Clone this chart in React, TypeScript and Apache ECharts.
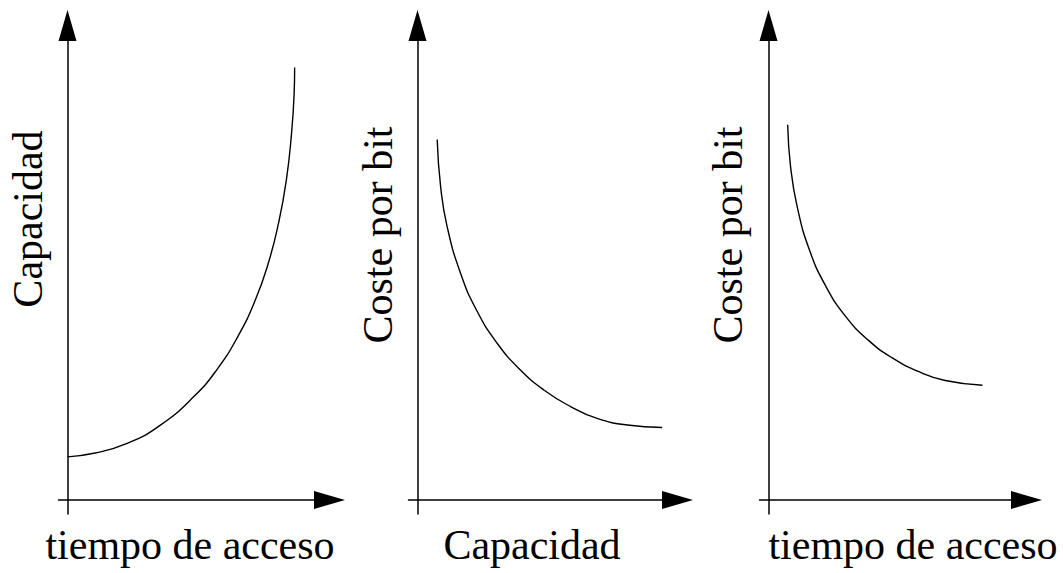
import React, { useEffect, useRef } from "react";
import * as echarts from "echarts";

// Curve 1: Capacidad vs tiempo de acceso
const curve1X = [0, 10, 22.7, 35.4, 48.1, 56.9, 64.8, 71.4, 76.4, 80.3, 83.3, 85.3, 86.3, 86.5];
const curve1Y = [9.1, 9.85, 11.95, 15.8, 21.8, 27.5, 34.4, 42.0, 49.8, 58.2, 67.3, 77.2, 85.6, 91.2];
// Curve 2: Coste por bit vs Capacidad
const curve2X = [7.5, 8.8, 11.3, 16.4, 22.5, 30.4, 39.2, 48.1, 58.3, 68.4, 79.9, 93.2];
const curve2Y = [76.0, 66.1, 57.6, 47.8, 40.0, 33.0, 27.4, 23.2, 19.7, 17.2, 15.8, 15.3];
// Curve 3: Coste por bit vs tiempo de acceso
const curve3X = [7.3, 8.4, 10.9, 15.6, 21.9, 29.5, 38.2, 47.0, 57.1, 67.3, 81.5];
const curve3Y = [79.1, 70.3, 61.9, 52.7, 45.0, 38.6, 33.6, 30.0, 27.1, 25.2, 24.2];

const xNames = ["tiempo de acceso", "Capacidad", "tiempo de acceso"];
const yNames = ["Capacidad", "Coste por bit", "Coste por bit"];

export default function App() {
  const ref = useRef<HTMLDivElement>(null);
  useEffect(() => {
    document.body.style.margin = "0";
    if (!ref.current) return;
    const chart = echarts.init(ref.current, null, { renderer: "svg" });

    const PX_X = 2.626;
    const PX_Y = 4.743;
    const axisXs = [67.5, 417.5, 768.5];
    const tips = [345, 693, 1042];
    const gridTop = 25.5;
    const gridBottomPx = 514;
    const originY = 500;
    const arrowLen = 31;

    const grids: any[] = [];
    const xAxes: any[] = [];
    const yAxes: any[] = [];
    axisXs.forEach((ax, i) => {
      const left = ax - 9;
      const right = tips[i] - arrowLen / 2;
      const width = right - left;
      grids.push({ left, top: gridTop, width, height: gridBottomPx - gridTop });
      const common = {
        type: "value",
        gridIndex: i,
        axisLine: {
          show: true,
          onZero: true,
          symbol: ["none", "triangle"],
          symbolSize: [18, arrowLen],
          lineStyle: { color: "#000", width: 1.5 },
        },
        axisTick: { show: false },
        axisLabel: { show: false },
        splitLine: { show: false },
      };
      xAxes.push({ ...common, min: -9 / PX_X, max: (width - 9) / PX_X });
      yAxes.push({
        ...common,
        min: -(gridBottomPx - originY) / PX_Y,
        max: (originY - gridTop) / PX_Y,
      });
    });

    const curves = [
      [curve1X, curve1Y],
      [curve2X, curve2Y],
      [curve3X, curve3Y],
    ];
    const series = curves.map(([xs, ys], i) => ({
      type: "line",
      xAxisIndex: i,
      yAxisIndex: i,
      data: xs.map((x, k) => [x, ys[k]]),
      smooth: 0.5,
      showSymbol: false,
      lineStyle: { color: "#000", width: 1.4 },
    }));

    const font = "'Liberation Serif', 'Times New Roman', serif";
    const xLabelCenters = [190, 532, 913];
    const yLabelX = [27.8, 377.8, 727.8];
    const yLabelY = [219, 235, 235];
    const graphic: any[] = [];
    xNames.forEach((n, i) => {
      graphic.push({
        type: "text",
        x: xLabelCenters[i],
        y: 545,
        style: { text: n, font: `42px ${font}`, fill: "#000", align: "center", verticalAlign: "middle" },
      });
    });
    yNames.forEach((n, i) => {
      graphic.push({
        type: "text",
        x: yLabelX[i],
        y: yLabelY[i],
        rotation: Math.PI / 2,
        style: { text: n, font: `42px ${font}`, fill: "#000", align: "center", verticalAlign: "middle" },
      });
    });

    chart.setOption({
      animation: false,
      backgroundColor: "#fff",
      grid: grids,
      xAxis: xAxes,
      yAxis: yAxes,
      series,
      graphic,
    });
    return () => chart.dispose();
  }, []);
  return <div ref={ref} style={{ width: 1063, height: 573 }} />;
}
